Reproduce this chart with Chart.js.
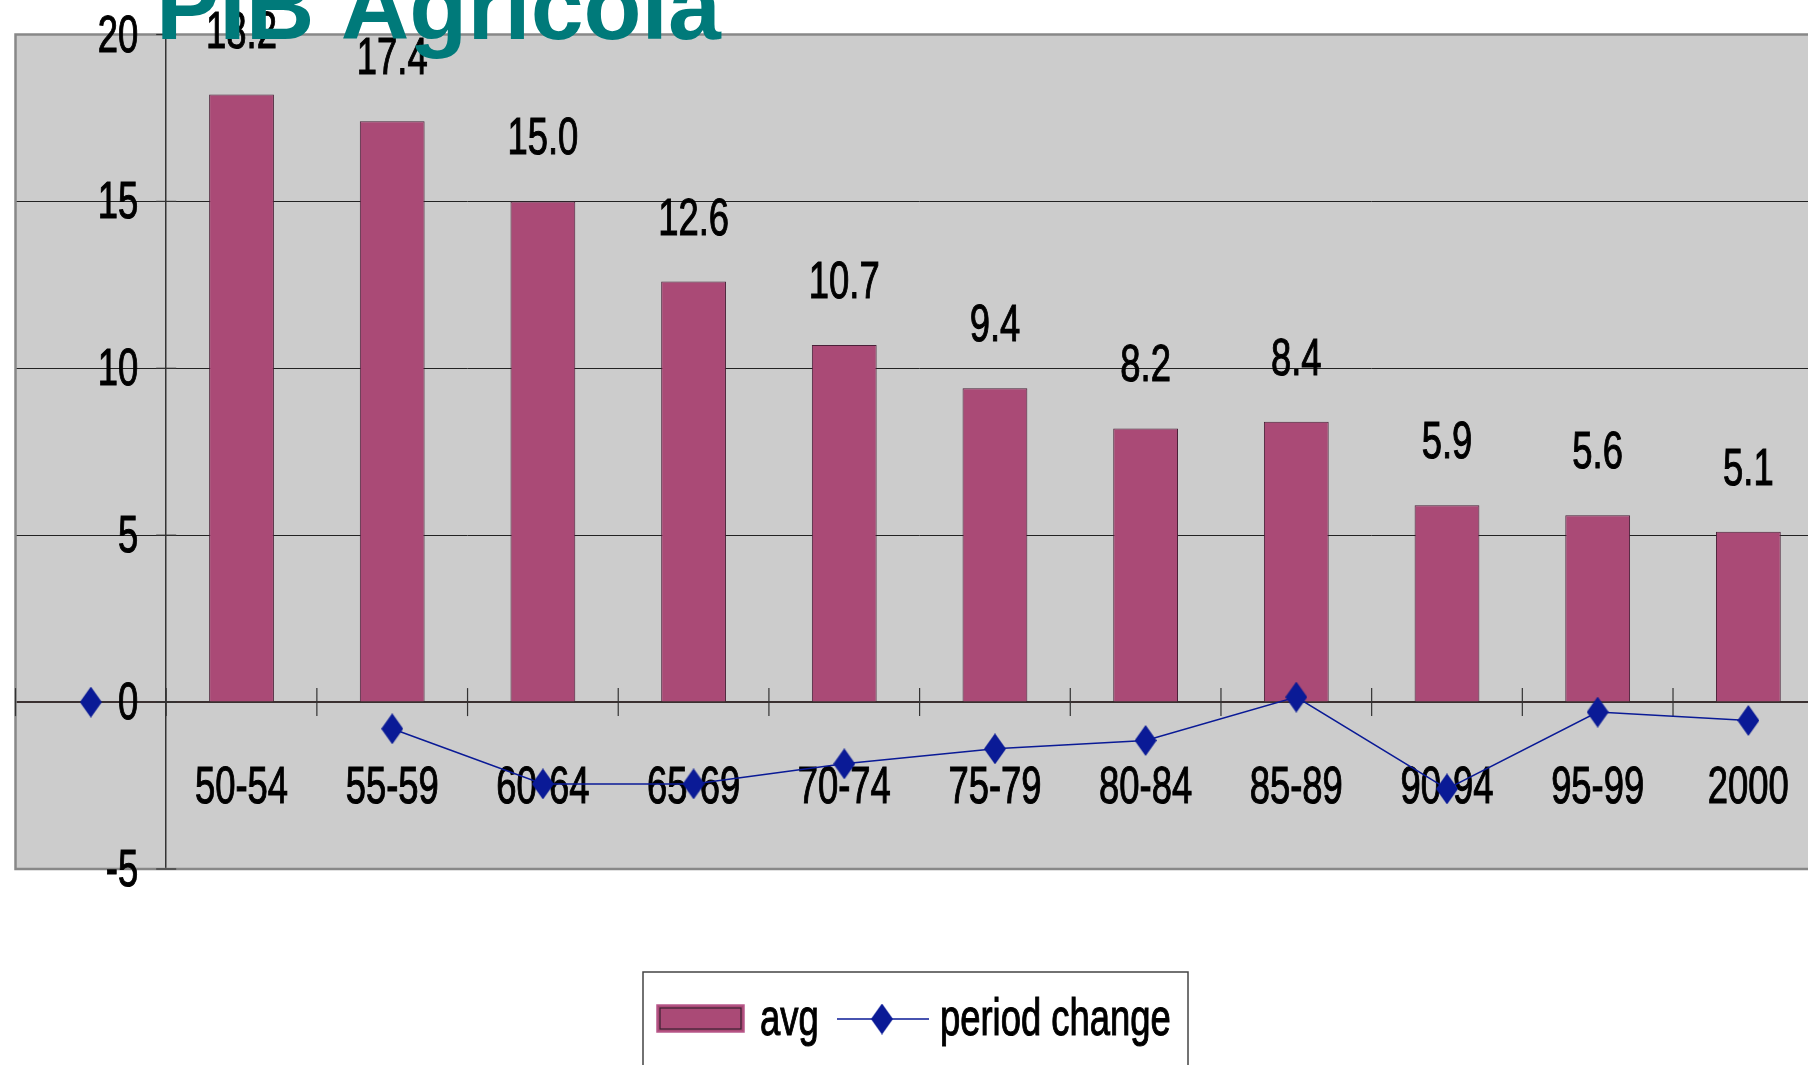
<!DOCTYPE html>
<html>
<head>
<meta charset="utf-8">
<script src="https://cdn.jsdelivr.net/npm/chart.js@4.4.1/dist/chart.umd.min.js"></script>
<style>
  html, body { margin: 0; padding: 0; background: #fff; overflow: hidden; }
  body { width: 1808px; height: 1065px; position: relative; }
  #wrap { position: absolute; left: 0; top: 0; width: 1830px; height: 1065px; }
  #chart { display: block; width: 1830px; height: 1065px; }
</style>
</head>
<body>
<div id="wrap"><canvas id="chart" width="1830" height="1065"></canvas></div>
<script>
// categories (first one is the blank slot left of the value axis)
const categories = ['', '50-54', '55-59', '60-64', '65-69', '70-74', '75-79', '80-84', '85-89', '90-94', '95-99', '2000'];
const avgValues = [null, 18.2, 17.4, 15.0, 12.6, 10.7, 9.4, 8.2, 8.4, 5.9, 5.6, 5.1];
const periodChange = [0, null, -0.8, -2.45, -2.45, -1.85, -1.4, -1.15, 0.15, -2.6, -0.3, -0.55];
const yTicks = [-5, 0, 5, 10, 15, 20];

const FONT = '52px "Liberation Sans", Arial, sans-serif';
const SQUEEZE = 0.7;   // the original uses a very narrow face
const BAR_COLOR = '#aa4a76';
const LINE_COLOR = '#0a1a96';

// tall diamond marker
function diamond(w, h, color) {
    const c = document.createElement('canvas');
    c.width = w;
    c.height = h;
    const g = c.getContext('2d');
    g.fillStyle = color;
    g.beginPath();
    g.moveTo(w / 2, 0);
    g.lineTo(w, h / 2);
    g.lineTo(w / 2, h);
    g.lineTo(0, h / 2);
    g.closePath();
    g.fill();
    return c;
}
const marker = diamond(22, 31, LINE_COLOR);

function narrowText(ctx, text, x, y, align) {
    ctx.save();
    ctx.translate(x, y);
    ctx.scale(SQUEEZE, 1);
    ctx.font = FONT;
    ctx.fillStyle = '#000';
    ctx.strokeStyle = '#000';
    ctx.lineWidth = 1.1;
    ctx.textAlign = align;
    ctx.textBaseline = 'alphabetic';
    ctx.fillText(text, 0, 0);
    ctx.strokeText(text, 0, 0);
    ctx.restore();
}

const chartDecor = {
    id: 'chartDecor',
    beforeDraw(chart) {
        const { ctx, chartArea: a } = chart;
        ctx.save();
        ctx.fillStyle = '#cccccc';
        ctx.fillRect(a.left, a.top, a.right - a.left + 20, a.bottom - a.top);
        ctx.restore();
    },
    beforeDatasetsDraw(chart) {
        const { ctx, chartArea: a, scales: { x, y } } = chart;
        ctx.save();
        // plot border
        ctx.strokeStyle = '#888888';
        ctx.lineWidth = 2.5;
        ctx.beginPath();
        ctx.moveTo(a.right + 20, a.top);
        ctx.lineTo(a.left, a.top);
        ctx.lineTo(a.left, a.bottom);
        ctx.lineTo(a.right + 20, a.bottom);
        ctx.stroke();
        // crossing tick marks on the category axis
        const y0 = y.getPixelForValue(0);
        ctx.strokeStyle = '#333';
        ctx.lineWidth = 1.2;
        for (let i = 0; i <= categories.length; i++) {
            const px = x.getPixelForValue(i - 0.5);
            ctx.beginPath();
            ctx.moveTo(px, y0 - 14);
            ctx.lineTo(px, y0 + 14);
            ctx.stroke();
        }
        // crossing tick marks and labels on the value axis
        const ax = x.getPixelForValue(0.5);
        yTicks.forEach(v => {
            const py = y.getPixelForValue(v);
            ctx.beginPath();
            ctx.moveTo(ax - 10, py);
            ctx.lineTo(ax + 10, py);
            ctx.stroke();
            narrowText(ctx, String(v), ax - 28, py + 17, 'right');
        });
        // category labels below the zero line
        categories.forEach((c, i) => {
            if (!c) return;
            narrowText(ctx, c, x.getPixelForValue(i), y0 + 101, 'center');
        });
        ctx.restore();
    },
    afterDatasetsDraw(chart) {
        const { ctx } = chart;
        const meta = chart.getDatasetMeta(1);
        meta.data.forEach((bar, i) => {
            if (avgValues[i] === null) return;
            narrowText(ctx, avgValues[i].toFixed(1), bar.x, bar.y - 47, 'center');
        });
    },
    afterDraw(chart) {
        const { ctx } = chart;
        ctx.save();
        // title
        ctx.fillStyle = '#007a7a';
        ctx.font = 'bold 95px "Liberation Sans", Arial, sans-serif';
        ctx.textBaseline = 'alphabetic';
        ctx.fillText('PIB Agricola', 156, 39);
        // legend box
        ctx.fillStyle = '#fff';
        ctx.fillRect(643, 972, 545, 120);
        ctx.strokeStyle = '#444';
        ctx.lineWidth = 1.5;
        ctx.strokeRect(643, 972, 545, 120);
        // bar swatch
        ctx.fillStyle = BAR_COLOR;
        ctx.fillRect(657, 1005, 87, 27);
        ctx.strokeStyle = '#b8588a';
        ctx.lineWidth = 1.5;
        ctx.strokeRect(657, 1005, 87, 27);
        ctx.strokeStyle = '#3a2030';
        ctx.lineWidth = 1.2;
        ctx.strokeRect(660, 1008, 81, 21);
        // line swatch
        ctx.strokeStyle = LINE_COLOR;
        ctx.lineWidth = 1.5;
        ctx.beginPath();
        ctx.moveTo(837, 1019);
        ctx.lineTo(929, 1019);
        ctx.stroke();
        ctx.drawImage(marker, 882 - marker.width / 2, 1019 - marker.height / 2);
        ctx.restore();
        // legend texts
        narrowText(ctx, chart.data.datasets[1].label, 760, 1035, 'left');
        narrowText(ctx, chart.data.datasets[0].label, 940, 1035, 'left');
    }
};

const ctx = document.getElementById('chart').getContext('2d');
new Chart(ctx, {
    data: {
        labels: categories,
        datasets: [
            {
                type: 'line',
                label: 'period change',
                data: periodChange,
                borderColor: LINE_COLOR,
                borderWidth: 1.5,
                pointStyle: marker,
                pointRadius: 11,
                spanGaps: false,
                tension: 0,
                order: 0
            },
            {
                type: 'bar',
                label: 'avg',
                data: avgValues,
                backgroundColor: BAR_COLOR,
                borderColor: '#4a2038',
                borderWidth: 1,
                barPercentage: 0.43,
                categoryPercentage: 1,
                order: 1
            }
        ]
    },
    options: {
        responsive: false,
        animation: false,
        events: [],
        layout: { autoPadding: false, padding: { left: 15.5, right: 6.3, top: 34.5, bottom: 196 } },
        plugins: {
            legend: { display: false },
            tooltip: { enabled: false }
        },
        scales: {
            x: {
                position: { y: 0 },
                offset: true,
                grid: { display: false },
                border: { display: true, color: '#3a3030', width: 2 },
                ticks: { display: false }
            },
            y: {
                min: -5,
                max: 20,
                position: { x: 0.5 },
                afterBuildTicks: (scale) => { scale.ticks = yTicks.map(v => ({ value: v })); },
                grid: {
                    drawTicks: false,
                    lineWidth: 1,
                    color: (c) => (c.tick && (c.tick.value === 20 || c.tick.value === -5 || c.tick.value === 0)) ? 'rgba(0,0,0,0)' : '#222'
                },
                border: { display: true, color: '#333', width: 1.5 },
                ticks: { display: false }
            }
        }
    },
    plugins: [chartDecor]
});
</script>
</body>
</html>
